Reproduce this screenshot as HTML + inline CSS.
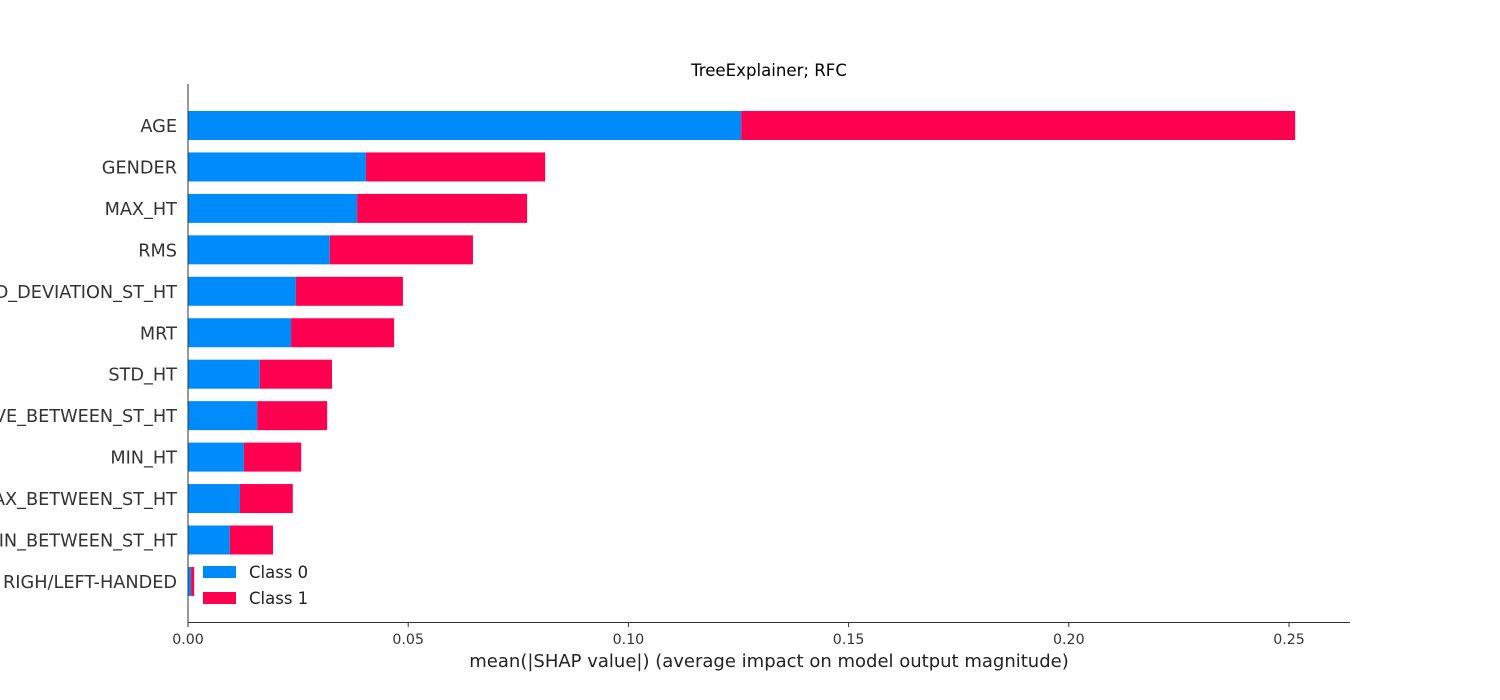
<!DOCTYPE html>
<html><head><meta charset="utf-8"><style>
body{margin:0;background:#fff;}
svg{display:block;font-family:"DejaVu Sans","Liberation Sans",sans-serif;}
</style></head><body>
<svg id="chart" width="1500" height="700">
<text x="769" y="76" text-anchor="middle" font-size="16.6" fill="#000">TreeExplainer; RFC</text>
<g id="bars"></g>
<g id="ylabels"></g>
<line x1="188" y1="84" x2="188" y2="622" stroke="#333" stroke-width="1"/>
<line x1="188" y1="622.5" x2="1350" y2="622.5" stroke="#333" stroke-width="1"/>
<g id="xticks"></g>
<text x="769" y="667" text-anchor="middle" font-size="18" fill="#222">mean(|SHAP value|) (average impact on model output magnitude)</text>
<g>
<rect x="203" y="566" width="33" height="12" fill="#008bfb"/>
<text x="249" y="578" font-size="16.5" fill="#222">Class 0</text>
<rect x="203" y="592" width="33" height="12" fill="#ff0051"/>
<text x="249" y="604" font-size="16.5" fill="#222">Class 1</text>
</g>
</svg>
<script>
const features=["AGE","GENDER","MAX_HT","RMS","STD_DEVIATION_ST_HT","MRT","STD_HT","AVE_BETWEEN_ST_HT","MIN_HT","MAX_BETWEEN_ST_HT","MIN_BETWEEN_ST_HT","RIGH/LEFT-HANDED"];
const class0=[0.1256,0.0404,0.0384,0.0322,0.0245,0.0234,0.0163,0.0157,0.0127,0.0118,0.0095,0.0007];
const class1=[0.1258,0.0407,0.0386,0.0325,0.0243,0.0234,0.0164,0.0159,0.0130,0.0120,0.0098,0.0007];
const xTicks=[0,0.05,0.10,0.15,0.20,0.25];
const xTickLabels=["0.00","0.05","0.10","0.15","0.20","0.25"];
const NS="http://www.w3.org/2000/svg";
const x=v=>188+v*4404;
const y=i=>125.5+i*41.45;
const bh=29;
const bars=document.getElementById('bars'),yl=document.getElementById('ylabels'),xt=document.getElementById('xticks');
features.forEach((f,i)=>{
  const r0=document.createElementNS(NS,'rect');
  r0.setAttribute('x',x(0));r0.setAttribute('y',y(i)-bh/2);r0.setAttribute('width',x(class0[i])-x(0));r0.setAttribute('height',bh);r0.setAttribute('fill','#008bfb');
  
  
  bars.appendChild(r0);
  const r1=document.createElementNS(NS,'rect');
  r1.setAttribute('x',x(class0[i]));r1.setAttribute('y',y(i)-bh/2);r1.setAttribute('width',x(class0[i]+class1[i])-x(class0[i]));r1.setAttribute('height',bh);r1.setAttribute('fill','#ff0051');
  
  
  bars.appendChild(r1);
  const t=document.createElementNS(NS,'text');
  t.setAttribute('x',177);t.setAttribute('y',y(i)+6.5);t.setAttribute('text-anchor','end');t.setAttribute('font-size','17.7');t.setAttribute('fill','#333');
  t.textContent=f;
  
  
  yl.appendChild(t);
});
xTicks.forEach((v,i)=>{
  const l=document.createElementNS(NS,'line');
  l.setAttribute('x1',x(v));l.setAttribute('x2',x(v));l.setAttribute('y1',622);l.setAttribute('y2',627);l.setAttribute('stroke','#333');
  
  
  xt.appendChild(l);
  const t=document.createElementNS(NS,'text');
  t.setAttribute('x',x(v));t.setAttribute('y',644);t.setAttribute('text-anchor','middle');t.setAttribute('font-size','14.2');t.setAttribute('fill','#333');
  t.textContent=xTickLabels[i];
  
  
  xt.appendChild(t);
});
</script>
</body></html>
